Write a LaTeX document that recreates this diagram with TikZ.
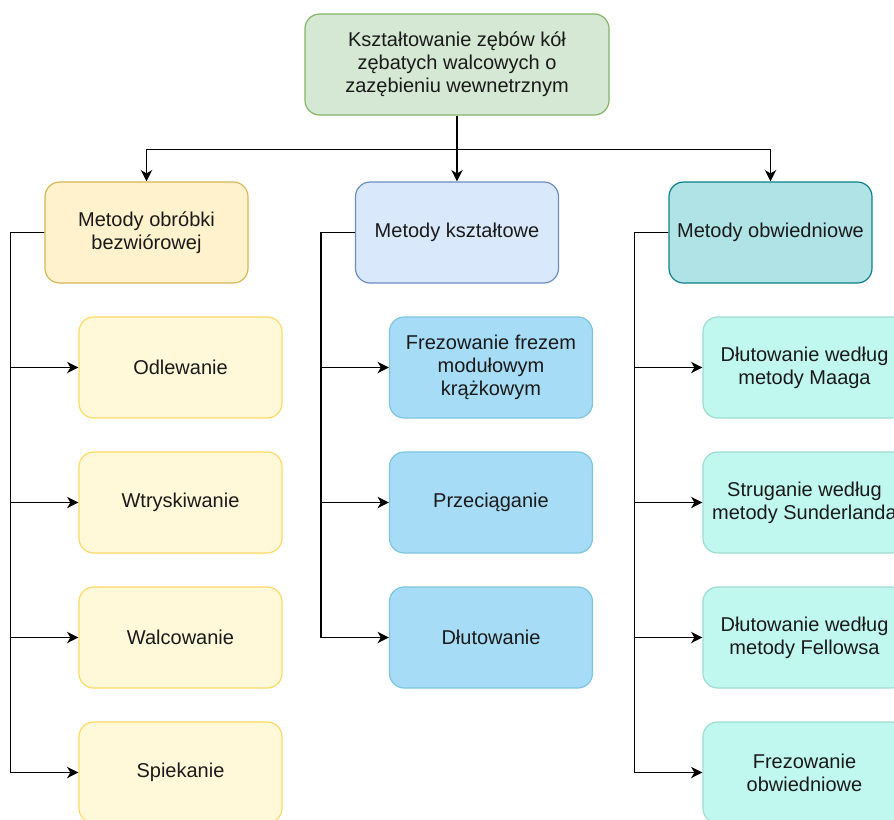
\documentclass[tikz,border=0pt]{standalone}
\usepackage{fontspec}
\setmainfont{Liberation Sans}
\usetikzlibrary{arrows.meta}

\definecolor{rootfill}{HTML}{D5E8D4}
\definecolor{rootline}{HTML}{82B366}
\definecolor{yfill}{HTML}{FFF2CC}
\definecolor{yline}{HTML}{D6B656}
\definecolor{ycfill}{HTML}{FFF9D9}
\definecolor{ycline}{HTML}{FFD966}
\definecolor{bfill}{HTML}{DAE8FC}
\definecolor{bline}{HTML}{6C8EBF}
\definecolor{bcfill}{HTML}{A6DCF5}
\definecolor{bcline}{HTML}{7EC4DE}
\definecolor{tfill}{HTML}{B0E3E6}
\definecolor{tline}{HTML}{0E8088}
\definecolor{tcfill}{HTML}{C0F7EE}
\definecolor{tcline}{HTML}{9EDCD0}
\definecolor{txt}{HTML}{1A1A1A}

\tikzset{
  box/.style={draw, rounded corners=11pt, line width=0.9pt,
    minimum width=152.25pt, minimum height=75.75pt,
    align=center, text=txt, font=\fontsize{15}{17.25}\selectfont,
    inner sep=0pt},
  rootbox/.style={box, fill=rootfill, draw=rootline, minimum width=228pt},
  ybox/.style={box, fill=yfill, draw=yline},
  ycbox/.style={box, fill=ycfill, draw=ycline},
  bbox/.style={box, fill=bfill, draw=bline},
  bcbox/.style={box, fill=bcfill, draw=bcline},
  tbox/.style={box, fill=tfill, draw=tline},
  tcbox/.style={box, fill=tcfill, draw=tcline},
  wire/.style={draw=black, line width=1.2pt},
  arr/.style={wire, -{Stealth[length=8.5pt, width=8.5pt, inset=2.5pt]}}
}

\begin{document}
\begin{tikzpicture}[x=0.75pt, y=-0.75pt]
\useasboundingbox (0,0) rectangle (894,819);
\clip (0,0) rectangle (894,819);

% root
\node[rootbox] (root) at (457,64.5) {Kształtowanie zębów kół\\zębatych walcowych o\\zazębieniu wewnetrznym};

% first level
\node[ybox] (a) at (146.5,232.5) {Metody obróbki\\bezwiórowej};
\node[bbox] (b) at (457,232.5) {Metody kształtowe};
\node[tbox] (c) at (770.5,232.5) {Metody obwiedniowe};

% non-cutting methods
\node[ycbox] (a1) at (180.5,367.5) {Odlewanie};
\node[ycbox] (a2) at (180.5,502.5) {Wtryskiwanie};
\node[ycbox] (a3) at (180.5,637.5) {Walcowanie};
\node[ycbox] (a4) at (180.5,772.5) {Spiekanie};

% form methods
\node[bcbox] (b1) at (491,367.5) {Frezowanie frezem\\modułowym\\krążkowym};
\node[bcbox] (b2) at (491,502.5) {Przeciąganie};
\node[bcbox] (b3) at (491,637.5) {Dłutowanie};

% generating methods
\node[tcbox] (c1) at (804.5,367.5) {Dłutowanie według\\metody Maaga};
\node[tcbox] (c2) at (804.5,502.5) {Struganie według\\metody Sunderlanda};
\node[tcbox] (c3) at (804.5,637.5) {Dłutowanie według\\metody Fellowsa};
\node[tcbox] (c4) at (804.5,772.5) {Frezowanie\\obwiedniowe};

% root to first level
\coordinate (bus) at ([yshift=-25.5pt]root.south);
\draw[arr] (root.south) -- (b.north);
\draw[arr] (bus) -| (a.north);
\draw[arr] (bus) -| (c.north);

% first level to children
\foreach \p in {a1,a2,a3,a4}
  \draw[arr] (a.west) -- ++(-34,0) |- (\p.west);
\foreach \p in {b1,b2,b3}
  \draw[arr] (b.west) -- ++(-34,0) |- (\p.west);
\foreach \p in {c1,c2,c3,c4}
  \draw[arr] (c.west) -- ++(-34,0) |- (\p.west);
\end{tikzpicture}
\end{document}
